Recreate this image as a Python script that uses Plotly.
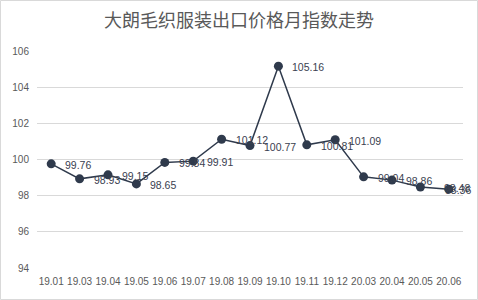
import plotly.graph_objects as go

categories = ["19.01", "19.03", "19.04", "19.05", "19.06", "19.07", "19.08", "19.09",
              "19.10", "19.11", "19.12", "20.03", "20.04", "20.05", "20.06"]
values = [99.76, 98.93, 99.15, 98.65, 99.84, 99.91, 101.12, 100.77,
          105.16, 100.81, 101.09, 99.04, 98.86, 98.48, 98.36]
y_ticks = [94, 96, 98, 100, 102, 104, 106]

W, H = 478, 300
ml, mr, mt, mb = 37, 15, 51, 32
pw, ph = W - ml - mr, H - mt - mb
LBL_FONT = dict(family="Liberation Sans, Arial, sans-serif", size=10.5, color="#3a4150")

fig = go.Figure()
fig.add_trace(go.Scatter(
    x=categories, y=values, mode="lines+markers",
    line=dict(color="#2f3a4c", width=1.5),
    marker=dict(color="#2f3a4c", size=9),
    cliponaxis=False, showlegend=False,
))

annotations = []
n = len(categories)
for i, v in enumerate(values):
    if i == n - 1:
        anchor, shift = "right", 24
    elif i == n - 2:
        anchor, shift = "left", 22
    else:
        anchor, shift = "left", 12
    annotations.append(dict(x=i, y=v, xref="x", yref="y", text=f"{v:.2f}",
                            showarrow=False, xanchor=anchor, yanchor="middle",
                            xshift=shift, yshift=-1, font=LBL_FONT))

fig.update_layout(
    width=W, height=H,
    margin=dict(l=ml, r=mr, t=mt, b=mb),
    paper_bgcolor="white", plot_bgcolor="white",
    title=dict(text="大朗毛织服装出口价格月指数走势", x=0.5, xanchor="center",
               y=1 - 21 / H, yanchor="middle",
               font=dict(family="Noto Sans CJK SC", size=18, color="#595959")),
    xaxis=dict(type="category", showgrid=False, showline=False, ticks="",
               tickfont=dict(family="Liberation Sans, Arial, sans-serif", size=10, color="#595959"),
               tickangle=0, range=[-0.5, n - 0.5], ticklabelstandoff=6),
    yaxis=dict(range=[94, 106], tickvals=y_ticks, showgrid=True, gridcolor="#d9d9d9",
               gridwidth=1, zeroline=False, showline=False, ticks="", ticklabelstandoff=7,
               tickfont=dict(family="Liberation Sans, Arial, sans-serif", size=10, color="#595959")),
    annotations=annotations,
    shapes=[dict(type="rect", xref="paper", yref="paper",
                 x0=(0.5 - ml) / pw, x1=(W - 0.5 - ml) / pw,
                 y0=-(mb - 0.5) / ph, y1=(H - mb - 0.5) / ph,
                 line=dict(color="#d9d9d9", width=1), fillcolor="rgba(0,0,0,0)", layer="below")],
)

fig.write_html("out.html")
